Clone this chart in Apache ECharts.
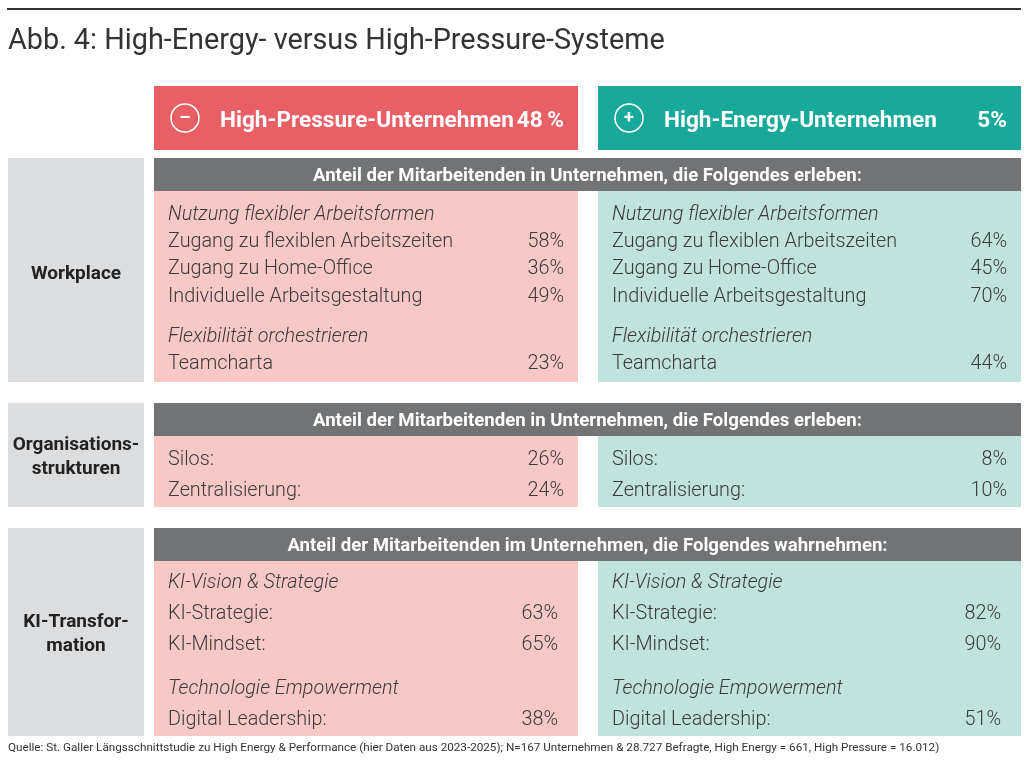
<!DOCTYPE html>
<html>
<head>
<meta charset="utf-8">
<script src="https://cdn.jsdelivr.net/npm/echarts@6/dist/echarts.min.js"></script>
<style>
html,body{margin:0;padding:0;background:#fff;}
#chart{width:1024px;height:762px;}
</style>
</head>
<body>
<div id="chart"></div>
<script>
// ---------- DATA ----------
const title = 'Abb. 4: High-Energy- versus High-Pressure-Systeme';
const groupNames = ['High-Pressure-Unternehmen', 'High-Energy-Unternehmen'];
const groupShares = ['48\u2009%', '5%'];
const groupSymbols = ['\u2013', '+'];
const sectionNames = ['Workplace', 'Organisations-\nstrukturen', 'KI-Transfor-\nmation'];
const sectionBars = [
  'Anteil der Mitarbeitenden in Unternehmen, die Folgendes erleben:',
  'Anteil der Mitarbeitenden in Unternehmen, die Folgendes erleben:',
  'Anteil der Mitarbeitenden im Unternehmen, die Folgendes wahrnehmen:'
];
const workplaceSubheads = ['Nutzung flexibler Arbeitsformen', 'Flexibilität orchestrieren'];
const workplaceLabels = ['Zugang zu flexiblen Arbeitszeiten', 'Zugang zu Home-Office', 'Individuelle Arbeitsgestaltung', 'Teamcharta'];
const workplacePressure = [58, 36, 49, 23];
const workplaceEnergy = [64, 45, 70, 44];
const orgLabels = ['Silos:', 'Zentralisierung:'];
const orgPressure = [26, 24];
const orgEnergy = [8, 10];
const kiSubheads = ['KI-Vision & Strategie', 'Technologie Empowerment'];
const kiLabels = ['KI-Strategie:', 'KI-Mindset:', 'Digital Leadership:'];
const kiPressure = [63, 65, 38];
const kiEnergy = [82, 90, 51];
const source = 'Quelle: St. Galler Längsschnittstudie zu High Energy & Performance (hier Daten aus 2023-2025); N=167 Unternehmen & 28.727 Befragte, High Energy = 661, High Pressure = 16.012)';

// ---------- LAYOUT / STYLE ----------
const FONT = 'Roboto, "Liberation Sans", sans-serif';
const C = {
  dark: '#333333', red: '#e95f66', teal: '#19a99b', pink: '#f8c9c4', lteal: '#c0e3dd',
  bar: '#727375', side: '#dcdddf', text: '#3a3a3a'
};
const colX = [[154, 578], [598, 1021]];
const sideX = [8, 144];
const sectionY = [[158, 382], [403, 507], [528, 736]];
const barH = 33;
const rightPad = [14, 14, 20];
const BODY = 19.8;
const DY = 2; // vertical text nudge

// rows per section: [kind, text, pressureValue, energyValue, y]
function buildRows() {
  const w = [
    ['sub', workplaceSubheads[0], null, null, 213],
    ['item', workplaceLabels[0], workplacePressure[0], workplaceEnergy[0], 240],
    ['item', workplaceLabels[1], workplacePressure[1], workplaceEnergy[1], 267],
    ['item', workplaceLabels[2], workplacePressure[2], workplaceEnergy[2], 295],
    ['sub', workplaceSubheads[1], null, null, 335],
    ['item', workplaceLabels[3], workplacePressure[3], workplaceEnergy[3], 362]
  ];
  const o = [
    ['item', orgLabels[0], orgPressure[0], orgEnergy[0], 458],
    ['item', orgLabels[1], orgPressure[1], orgEnergy[1], 489]
  ];
  const k = [
    ['sub', kiSubheads[0], null, null, 581],
    ['item', kiLabels[0], kiPressure[0], kiEnergy[0], 612],
    ['item', kiLabels[1], kiPressure[1], kiEnergy[1], 643],
    ['sub', kiSubheads[1], null, null, 687],
    ['item', kiLabels[2], kiPressure[2], kiEnergy[2], 718]
  ];
  return [w, o, k];
}

const g = [];
function rect(x1, y1, x2, y2, fill) {
  g.push({ type: 'rect', shape: { x: x1, y: y1, width: x2 - x1, height: y2 - y1 }, style: { fill: fill }, silent: true });
}
function text(t, x, y, opt) {
  g.push({ type: 'text', x: x, y: y + DY, silent: true, style: Object.assign({
    text: t, fill: C.text, fontFamily: FONT, fontSize: BODY, fontWeight: 300,
    textAlign: 'left', textVerticalAlign: 'middle'
  }, opt || {}) });
}

// top rule & title
rect(7, 8, 1021, 10, C.dark);
text(title, 8, 40, { fontSize: 28.8, fontWeight: 400, fill: C.dark });

// group headers
const headFill = [C.red, C.teal];
groupNames.forEach((name, i) => {
  const [x1, x2] = colX[i];
  rect(x1, 86, x2, 150, headFill[i]);
  const cx = x1 + 31;
  g.push({ type: 'circle', shape: { cx: cx, cy: 118, r: 14 }, style: { fill: 'none', stroke: '#fff', lineWidth: 1.5 }, silent: true });
  text(groupSymbols[i], cx, 116, { fill: '#fff', fontSize: 18, fontWeight: 700, textAlign: 'center' });
  text(name, x1 + 66, 119, { fill: '#fff', fontSize: 22.6, fontWeight: 700 });
  text(groupShares[i], x2 - 14, 119, { fill: '#fff', fontSize: 22.6, fontWeight: 700, textAlign: 'right' });
});

// sections
const rows = buildRows();
const cellFill = [C.pink, C.lteal];
sectionNames.forEach((name, s) => {
  const [y1, y2] = sectionY[s];
  rect(sideX[0], y1, sideX[1], y2, C.side);
  text(name, (sideX[0] + sideX[1]) / 2, (y1 + y2) / 2 + (s === 0 ? 2 : 0), {
    fill: '#222', fontSize: 19, fontWeight: 700, textAlign: 'center', lineHeight: 24
  });
  rect(colX[0][0], y1, colX[1][1], y1 + barH, C.bar);
  text(sectionBars[s], (colX[0][0] + colX[1][1]) / 2, y1 + barH / 2, {
    fill: '#fff', fontSize: 18.6, fontWeight: 700, textAlign: 'center'
  });
  for (let c = 0; c < 2; c++) {
    rect(colX[c][0], y1 + barH, colX[c][1], y2, cellFill[c]);
  }
  rows[s].forEach(r => {
    const [kind, label, pv, ev, y] = r;
    for (let c = 0; c < 2; c++) {
      const lx = colX[c][0] + 14;
      if (kind === 'sub') {
        text(label, lx, y, { fontStyle: 'italic' });
      } else {
        text(label, lx, y);
        text((c === 0 ? pv : ev) + '%', colX[c][1] - rightPad[s], y, { textAlign: 'right' });
      }
    }
  });
});

// source
text(source, 8, 746, { fontSize: 11.7, fontWeight: 400, fill: C.dark });

const chart = echarts.init(document.getElementById('chart'), null, { renderer: 'canvas' });
chart.setOption({ animation: false, backgroundColor: '#fff', graphic: { elements: g } });
</script>
</body>
</html>
